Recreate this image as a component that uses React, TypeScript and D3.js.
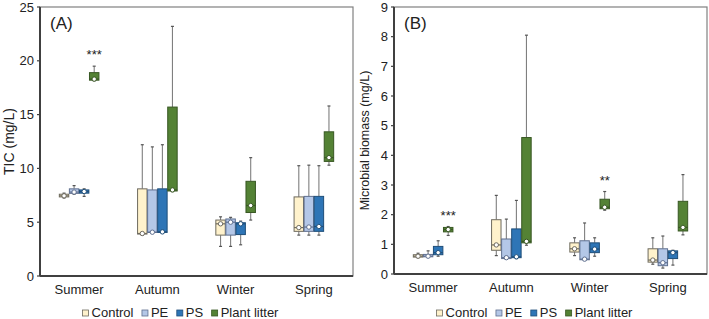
import React from "react";
import * as d3 from "d3";

const seasons = ["Summer", "Autumn", "Winter", "Spring"];
const seriesNames = ["Control", "PE", "PS", "Plant litter"];

// [min, q1, median, q3, max] per season
const ticControl = [[7.25, 7.35, 7.45, 7.6, 7.7], [3.8, 3.9, 3.95, 8.1, 12.2], [2.75, 3.8, 4.85, 5.2, 5.5], [3.8, 4.15, 4.5, 7.35, 10.25]];
const ticPE = [[7.6, 7.68, 7.8, 8.1, 8.4], [4.0, 4.05, 4.07, 8.0, 12.0], [2.75, 3.8, 5.0, 5.3, 5.45], [3.8, 4.15, 4.55, 7.4, 10.3]];
const ticPS = [[7.4, 7.7, 7.85, 8.0, 8.1], [4.0, 4.05, 4.1, 8.1, 12.2], [2.9, 3.85, 4.85, 4.95, 5.1], [3.8, 4.15, 4.6, 7.4, 10.25]];
const ticLitter = [[18.15, 18.2, 18.3, 18.9, 19.5], [7.85, 7.9, 8.0, 15.7, 23.2], [5.2, 5.9, 6.55, 8.8, 11.0], [10.3, 10.65, 11.0, 13.4, 15.8]];
const ticStars = ["***", "", "", ""];
const ticTicks = [0, 5, 10, 15, 20, 25];

const mbControl = [[0.55, 0.57, 0.6, 0.65, 0.7], [0.62, 0.8, 0.98, 1.83, 2.65], [0.62, 0.74, 0.85, 1.05, 1.22], [0.33, 0.4, 0.47, 0.85, 1.22]];
const mbPE = [[0.56, 0.58, 0.6, 0.66, 0.78], [0.5, 0.52, 0.55, 1.18, 1.85], [0.46, 0.48, 0.5, 1.12, 1.72], [0.2, 0.28, 0.38, 0.85, 1.28]];
const mbPS = [[0.6, 0.65, 0.72, 0.93, 1.12], [0.52, 0.55, 0.58, 1.52, 2.48], [0.6, 0.72, 0.84, 1.05, 1.22], [0.3, 0.52, 0.72, 0.78, 0.8]];
const mbLitter = [[1.3, 1.42, 1.5, 1.57, 1.6], [0.97, 1.05, 1.1, 4.6, 8.05], [2.15, 2.2, 2.25, 2.52, 2.78], [1.32, 1.45, 1.57, 2.45, 3.35]];
const mbStars = ["***", "", "**", ""];
const mbTicks = [0, 1, 2, 3, 4, 5, 6, 7, 8, 9];

const fills = ["#FFF2CC", "#B4C7E7", "#2E75B6", "#548235"];
const strokes = ["#6E6A5E", "#5F6F8F", "#1F4E79", "#385723"];
const FONT = '"Liberation Sans", Arial, sans-serif';

type PanelProps = {
  x0: number; x1: number; yTop: number; yBottom: number;
  ticks: number[]; series: number[][][]; stars: string[];
  title: string; label: string; labelSize: number; labelOffset: number;
};

function measure(text: string, size: number) {
  const c = document.createElement("canvas").getContext("2d");
  if (!c) return text.length * size * 0.55;
  c.font = `${size}px ${FONT}`;
  return c.measureText(text).width;
}

function Panel({ x0, x1, yTop, yBottom, ticks, series, stars, title, label, labelSize, labelOffset }: PanelProps) {
  const y = d3.scaleLinear().domain([0, ticks[ticks.length - 1]]).range([yBottom, yTop]);
  const xb = d3.scaleBand().domain(seasons).range([x0, x1]);
  const xi = d3.scaleBand().domain(seriesNames).range([-19.8, 19.8]).paddingInner(0.06);
  const bw = xi.bandwidth();

  const widths = seriesNames.map((n) => 9 + measure(n, 13) + 8.5);
  const total = d3.sum(widths) - 8.5;
  const lcx = (x0 + x1) / 2 - 16;
  let acc = lcx - total / 2;
  const lx = widths.map((w) => { const v = acc; acc += w; return v; });

  return (
    <g>
      <rect x={x0} y={yTop} width={x1 - x0} height={yBottom - yTop} fill="none" stroke="#808080" strokeWidth={1.2} />
      <line x1={x0} x2={x0} y1={yTop} y2={yBottom} stroke="#404040" strokeWidth={2} />
      <line x1={x0} x2={x1} y1={yBottom} y2={yBottom} stroke="#404040" strokeWidth={2} />
      {ticks.map((t) => (
        <g key={t}>
          <line x1={x0 - 3} x2={x0} y1={y(t)} y2={y(t)} stroke="#404040" strokeWidth={1.2} />
          <text x={x0 - 6} y={y(t) + 4.6} textAnchor="end" fontSize={13} fill="#222">{t}</text>
        </g>
      ))}
      {seasons.map((s) => (
        <text key={s} x={xb(s)! + xb.bandwidth() / 2} y={yBottom + 17.5} textAnchor="middle" fontSize={13} fill="#222">{s}</text>
      ))}
      <text transform={`translate(${x0 - labelOffset},${(yTop + yBottom) / 2}) rotate(-90)`} textAnchor="middle" fontSize={labelSize} fill="#222">{label}</text>
      <text x={x0 + 10} y={yTop + 22} fontSize={17} fill="#222">{title}</text>
      {series.map((ser, si) =>
        ser.map((d, ci) => {
          const cx = xb(seasons[ci])! + xb.bandwidth() / 2 + xi(seriesNames[si])! + bw / 2;
          const [mn, q1, md, q3, mx] = d;
          return (
            <g key={`${si}-${ci}`}>
              <line x1={cx} x2={cx} y1={y(mx)} y2={y(q3)} stroke="#7F7F7F" strokeWidth={1.1} />
              <line x1={cx} x2={cx} y1={y(q1)} y2={y(mn)} stroke="#7F7F7F" strokeWidth={1.1} />
              <line x1={cx - 1.5} x2={cx + 1.5} y1={y(mx)} y2={y(mx)} stroke="#555" strokeWidth={1.2} />
              <line x1={cx - 1.5} x2={cx + 1.5} y1={y(mn)} y2={y(mn)} stroke="#555" strokeWidth={1.2} />
              <rect x={cx - bw / 2} y={y(q3)} width={bw} height={Math.max(1, y(q1) - y(q3))} fill={fills[si]} stroke={strokes[si]} strokeWidth={1} />
              <line x1={cx - bw / 2} x2={cx + bw / 2} y1={y(md)} y2={y(md)} stroke={strokes[si]} strokeWidth={1.2} />
              <circle cx={cx} cy={y(md)} r={2.2} fill="#fff" stroke={strokes[si]} strokeWidth={1} />
            </g>
          );
        })
      )}
      {stars.map((st, ci) => {
        if (!st) return null;
        const si = 3;
        const cx = xb(seasons[ci])! + xb.bandwidth() / 2 + xi(seriesNames[si])! + bw / 2;
        return <text key={ci} x={cx} y={y(series[si][ci][4]) - 7} textAnchor="middle" fontSize={13} fill="#222">{st}</text>;
      })}
      {seriesNames.map((n, i) => (
        <g key={n}>
          <rect x={lx[i]} y={310} width={6} height={6} fill={fills[i]} stroke={strokes[i]} strokeWidth={0.8} />
          <text x={lx[i] + 9} y={317} fontSize={13} fill="#222">{n}</text>
        </g>
      ))}
    </g>
  );
}

export default function App() {
  return (
    <svg width={709} height={319} style={{ position: "absolute", left: 0, top: 0, background: "#fff" }} fontFamily={FONT}>
      <Panel x0={40} x1={353} yTop={7} yBottom={276} ticks={ticTicks}
        series={[ticControl, ticPE, ticPS, ticLitter]} stars={ticStars} title="(A)" label="TIC (mg/L)"
        labelSize={14} labelOffset={26.5} />
      <Panel x0={394} x1={707} yTop={7} yBottom={274} ticks={mbTicks}
        series={[mbControl, mbPE, mbPS, mbLitter]} stars={mbStars} title="(B)" label="Microbial biomass (mg/L)"
        labelSize={12.5} labelOffset={25} />
    </svg>
  );
}
